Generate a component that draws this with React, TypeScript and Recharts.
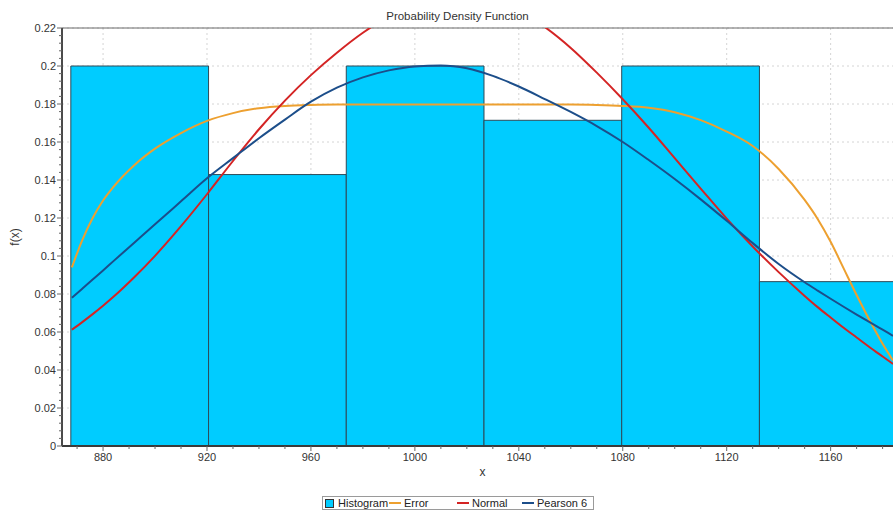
import React from 'react';
import {
  ComposedChart,
  Line,
  XAxis,
  YAxis,
  CartesianGrid,
  ReferenceArea,
  ReferenceLine,
  Legend,
} from 'recharts';

// ---- data ----
const xSamples = [868, 872, 876, 880, 884, 892, 900, 910, 920, 930, 940, 950, 960, 970, 980, 990, 1000, 1010, 1020, 1030, 1040, 1050, 1060, 1070, 1080, 1090, 1100, 1110, 1120, 1130, 1140, 1150, 1155, 1160, 1165, 1170, 1175, 1180, 1184];
const errorValues = [0.094, 0.1084, 0.12, 0.1292, 0.1364, 0.1478, 0.1565, 0.1647, 0.1711, 0.1752, 0.1778, 0.179, 0.1795, 0.1797, 0.1797, 0.1797, 0.1797, 0.1797, 0.1797, 0.1797, 0.1797, 0.1797, 0.1797, 0.1795, 0.179, 0.178, 0.1757, 0.1715, 0.1655, 0.1579, 0.1458, 0.1295, 0.1195, 0.1075, 0.0935, 0.0795, 0.0662, 0.0538, 0.045];
const normalValues = [0.0612, 0.0652, 0.0694, 0.0738, 0.0785, 0.0888, 0.1001, 0.1157, 0.1325, 0.15, 0.1667, 0.1818, 0.1952, 0.207, 0.2175, 0.226, 0.2325, 0.236, 0.2365, 0.234, 0.229, 0.2205, 0.2095, 0.1965, 0.1825, 0.1675, 0.1515, 0.1355, 0.1197, 0.105, 0.0915, 0.079, 0.0731, 0.0676, 0.0622, 0.0571, 0.052, 0.0471, 0.0432];
const pearson6Values = [0.078, 0.0828, 0.0876, 0.0924, 0.0973, 0.107, 0.1167, 0.1288, 0.1409, 0.1515, 0.162, 0.1718, 0.1812, 0.1886, 0.194, 0.1977, 0.1998, 0.2003, 0.1988, 0.1948, 0.1892, 0.1826, 0.1758, 0.1684, 0.16, 0.1505, 0.1405, 0.1298, 0.1185, 0.1068, 0.0958, 0.0862, 0.0818, 0.0775, 0.0733, 0.0692, 0.0652, 0.0612, 0.058];

const binEdges = [867.6, 920.6, 973.6, 1026.6, 1079.6, 1132.6, 1185.6];
const histogramValues = [0.2, 0.142857, 0.2, 0.171429, 0.2, 0.0865];

const xMajorTicks = [880, 920, 960, 1000, 1040, 1080, 1120, 1160];
const yMajorTicks = [0, 0.02, 0.04, 0.06, 0.08, 0.1, 0.12, 0.14, 0.16, 0.18, 0.2, 0.22];
const xDomain: [number, number] = [864.2, 1184];
const yDomain: [number, number] = [0, 0.22];

const title = 'Probability Density Function';
const xLabel = 'x';
const yLabel = 'f(x)';
const seriesNames = { hist: 'Histogram', error: 'Error', normal: 'Normal', pearson: 'Pearson 6' };

// ---- derived ----
const chartData = xSamples.map((x, i) => ({
  x,
  error: errorValues[i],
  normal: normalValues[i],
  pearson: pearson6Values[i],
}));

const xAllTicks: number[] = [];
for (let t = 870; t <= 1180; t += 10) xAllTicks.push(t);
const yAllTicks: number[] = [];
for (let k = 0; k <= 55; k++) yAllTicks.push(Math.round(k * 0.004 * 10000) / 10000);

const isMajor = (list: number[], v: number) => list.some((t) => Math.abs(t - v) < 1e-9);
const fmtY = (v: number) => String(Number(v.toFixed(2)));

const FONT = '"Liberation Sans", Arial, sans-serif';
const COLORS = {
  hist: '#00CCFF',
  histStroke: '#2E4A58',
  error: '#EDA030',
  normal: '#D42424',
  pearson: '#1C4E8A',
};

const YTick = (props: any) => {
  const { x, y, payload } = props;
  const v = payload.value;
  const major = isMajor(yMajorTicks, v);
  return (
    <g>
      <line x1={x + (major ? 0 : 2)} x2={x + 5} y1={y} y2={y} stroke="#666" strokeWidth={1} />
      {major && (
        <text x={x - 1} y={y} textAnchor="end" dominantBaseline="central" fontSize={11} fontFamily={FONT} fill="#333">
          {fmtY(v)}
        </text>
      )}
    </g>
  );
};

const XTick = (props: any) => {
  const { x, y, payload } = props;
  const v = payload.value;
  const major = isMajor(xMajorTicks, v);
  return (
    <g>
      <line x1={x} x2={x} y1={y - 7} y2={y - (major ? 2 : 4)} stroke="#666" strokeWidth={1} />
      {major && (
        <text x={x} y={y} dy="0.75em" textAnchor="middle" fontSize={11} fontFamily={FONT} fill="#333">
          {v}
        </text>
      )}
    </g>
  );
};

const renderLegend = () => (
  <div
    style={{
      height: 14,
      boxSizing: 'border-box',
      border: '1px solid #9a9a9a',
      background: '#fff',
      display: 'flex',
      alignItems: 'center',
      fontFamily: FONT,
      fontSize: 11,
      lineHeight: '12px',
      color: '#222',
      paddingLeft: 2,
      whiteSpace: 'nowrap',
    }}
  >
    <div style={{ width: 64, flexShrink: 0, display: 'flex', alignItems: 'center' }}>
      <span style={{ width: 9, height: 9, flexShrink: 0, boxSizing: 'border-box', background: COLORS.hist, border: '1px solid #333', display: 'inline-block' }} />
      <span style={{ marginLeft: 4 }}>{seriesNames.hist}</span>
    </div>
    <div style={{ width: 68, flexShrink: 0, display: 'flex', alignItems: 'center' }}>
      <span style={{ width: 12, height: 2, flexShrink: 0, background: COLORS.error, display: 'inline-block' }} />
      <span style={{ marginLeft: 3 }}>{seriesNames.error}</span>
    </div>
    <div style={{ width: 65, flexShrink: 0, display: 'flex', alignItems: 'center' }}>
      <span style={{ width: 12, height: 2, flexShrink: 0, background: COLORS.normal, display: 'inline-block' }} />
      <span style={{ marginLeft: 3 }}>{seriesNames.normal}</span>
    </div>
    <div style={{ display: 'flex', alignItems: 'center' }}>
      <span style={{ width: 12, height: 2, flexShrink: 0, background: COLORS.pearson, display: 'inline-block' }} />
      <span style={{ marginLeft: 3 }}>{seriesNames.pearson}</span>
    </div>
  </div>
);

export default function App() {
  return (
    <div
      style={{
        position: 'absolute',
        left: 0,
        top: 0,
        width: 893,
        height: 510,
        overflow: 'hidden',
        background: '#fff',
        fontFamily: FONT,
      }}
    >
      <div
        style={{
          position: 'absolute',
          top: 10,
          left: 0,
          width: 915,
          textAlign: 'center',
          fontSize: 11.5,
          color: '#333',
          fontFamily: FONT,
        }}
      >
        {title}
      </div>
      <ComposedChart
        width={893}
        height={510}
        data={chartData}
        margin={{ top: 28, right: 0, left: 0, bottom: 0 }}
      >
        <CartesianGrid
          stroke="#d4d4d4"
          strokeDasharray="2 3"
          horizontalValues={yMajorTicks}
          verticalValues={xMajorTicks}
        />
        <XAxis
          dataKey="x"
          type="number"
          domain={xDomain}
          allowDataOverflow
          ticks={xAllTicks}
          interval={0}
          height={50}
          tickSize={4}
          tickMargin={3}
          tickLine={false}
          tick={<XTick />}
          axisLine={{ stroke: '#3a3a3a', strokeWidth: 2 }}
          label={{ value: xLabel, position: 'insideTop', offset: 21, dx: 5, fontSize: 12, fill: '#333', fontFamily: FONT }}
        />
        <YAxis
          type="number"
          domain={yDomain}
          allowDataOverflow
          ticks={yAllTicks}
          interval={0}
          width={62}
          tickSize={5}
          tickMargin={0}
          tickLine={false}
          tick={<YTick />}
          axisLine={{ stroke: '#4a4a4a', strokeWidth: 2 }}
          label={{ value: yLabel, angle: -90, position: 'insideLeft', offset: 15, style: { textAnchor: 'middle' }, fontSize: 12, fill: '#333', fontFamily: FONT }}
        />
        {histogramValues.map((v, i) => (
          <ReferenceArea
            key={i}
            x1={binEdges[i]}
            x2={binEdges[i + 1]}
            y1={0}
            y2={v}
            fill={COLORS.hist}
            fillOpacity={1}
            stroke={COLORS.histStroke}
            strokeWidth={1}
            ifOverflow="hidden"
          />
        ))}
        <ReferenceLine y={0.22} stroke="#6a6a6a" strokeWidth={1} />
        <Line type="monotone" dataKey="error" name={seriesNames.error} stroke={COLORS.error} strokeWidth={2} dot={false} isAnimationActive={false} />
        <Line type="monotone" dataKey="normal" name={seriesNames.normal} stroke={COLORS.normal} strokeWidth={2} dot={false} isAnimationActive={false} />
        <Line type="monotone" dataKey="pearson" name={seriesNames.pearson} stroke={COLORS.pearson} strokeWidth={2} dot={false} isAnimationActive={false} />
        <Legend verticalAlign="bottom" align="left" wrapperStyle={{ left: 322, width: 272, bottom: 0 }} content={renderLegend} />
      </ComposedChart>
    </div>
  );
}
